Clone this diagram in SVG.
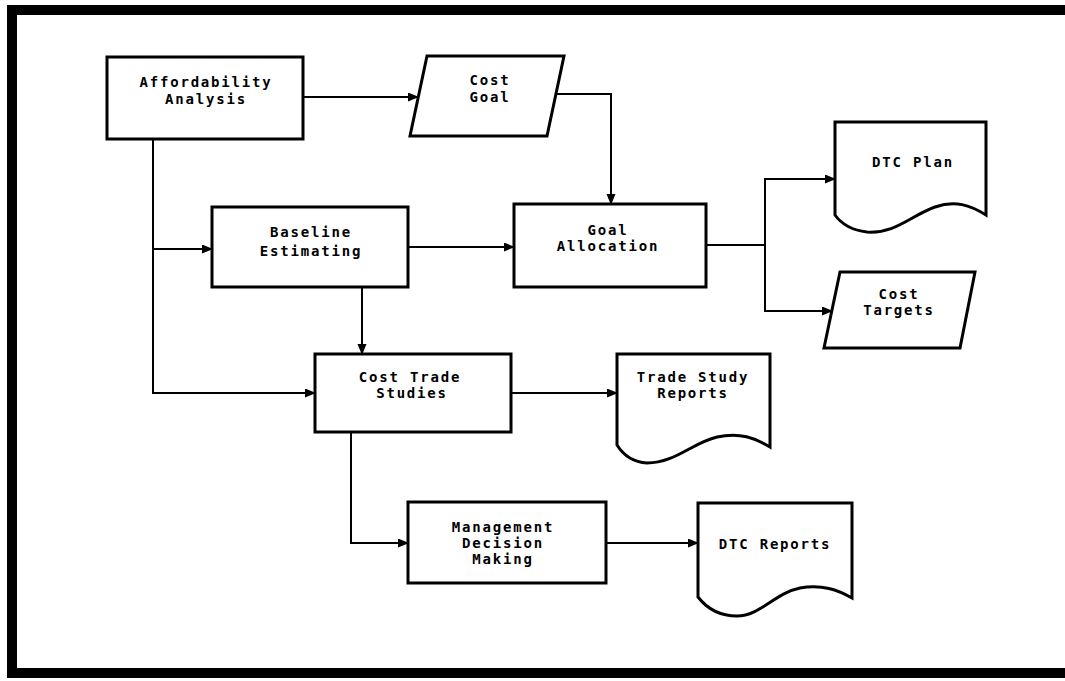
<svg xmlns="http://www.w3.org/2000/svg" width="1065" height="681" viewBox="0 0 1065 681">
<defs>
<marker id="arr" markerUnits="userSpaceOnUse" markerWidth="11" markerHeight="10" refX="10" refY="4.5" orient="auto">
<path d="M0,0 L11,4.5 L0,9 z" fill="#000"/>
</marker>
<style>
.box{fill:#fff;stroke:#000;stroke-width:3;stroke-linejoin:miter}
.con{fill:none;stroke:#000;stroke-width:2;marker-end:url(#arr)}
.ln{fill:none;stroke:#000;stroke-width:2}
text{font-family:"DejaVu Sans Mono","Liberation Mono",monospace;font-weight:bold;font-size:14px;letter-spacing:1.8px;text-anchor:middle;fill:#000}
</style>
</defs>
<rect width="1065" height="681" fill="#fff"/>
<path d="M1070,10 H12 V673 H1070" fill="none" stroke="#000" stroke-width="10"/>

<g id="connectors">
<path class="con" d="M303,97 H418"/>
<path class="con" d="M556,94 H611 V204"/>
<path class="con" d="M153,139 V393 H315"/>
<path class="con" d="M153,249 H212"/>
<path class="con" d="M408,247 H514"/>
<path class="con" d="M362,287 V354"/>
<path class="con" d="M511,393 H617"/>
<path class="con" d="M351,432 V543 H408"/>
<path class="con" d="M606,543 H698"/>
<path class="con" d="M706,245 H765 V179 H835"/>
<path class="con" d="M765,245 V311 H832"/>
</g>

<g id="affordability">
<rect class="box" x="107" y="57" width="196" height="82"/>
<text x="206" y="87">Affordability</text>
<text x="206" y="104">Analysis</text>
</g>

<g id="cost-goal">
<path class="box" d="M427,56 H564 L547,136 H410 Z"/>
<text x="490" y="85">Cost</text>
<text x="490" y="102">Goal</text>
</g>

<g id="baseline">
<rect class="box" x="212" y="207" width="196" height="80"/>
<text x="311" y="237">Baseline</text>
<text x="311" y="256">Estimating</text>
</g>

<g id="goal-allocation">
<rect class="box" x="514" y="204" width="192" height="83"/>
<text x="608" y="235">Goal</text>
<text x="608" y="251">Allocation</text>
</g>

<g id="dtc-plan">
<path class="box" d="M835,122 H986 V215 C970,205 955,200 935,207 C910,216 895,234 867,232 C850,230 840,222 835,215 Z"/>
<text x="913" y="167">DTC Plan</text>
</g>

<g id="cost-targets">
<path class="box" d="M840,272 H975 L960,348 H824 Z"/>
<text x="899" y="299">Cost</text>
<text x="899" y="315">Targets</text>
</g>

<g id="cost-trade">
<rect class="box" x="315" y="354" width="196" height="78"/>
<text x="410" y="382">Cost Trade</text>
<text x="412" y="398">Studies</text>
</g>

<g id="trade-study">
<path class="box" d="M617,354 H770 V447 C755,438 740,432 717,437 C692,443 675,463 647,463 C630,462 622,453 617,445 Z"/>
<text x="693" y="382">Trade Study</text>
<text x="693" y="398">Reports</text>
</g>

<g id="management">
<rect class="box" x="408" y="502" width="198" height="81"/>
<text x="503" y="532">Management</text>
<text x="503" y="548">Decision</text>
<text x="503" y="564">Making</text>
</g>

<g id="dtc-reports">
<path class="box" d="M698,503 H852 V598 C838,590 822,584 800,588 C775,593 760,616 737,616 C716,616 705,606 698,597 Z"/>
<text x="775" y="549">DTC Reports</text>
</g>
</svg>
